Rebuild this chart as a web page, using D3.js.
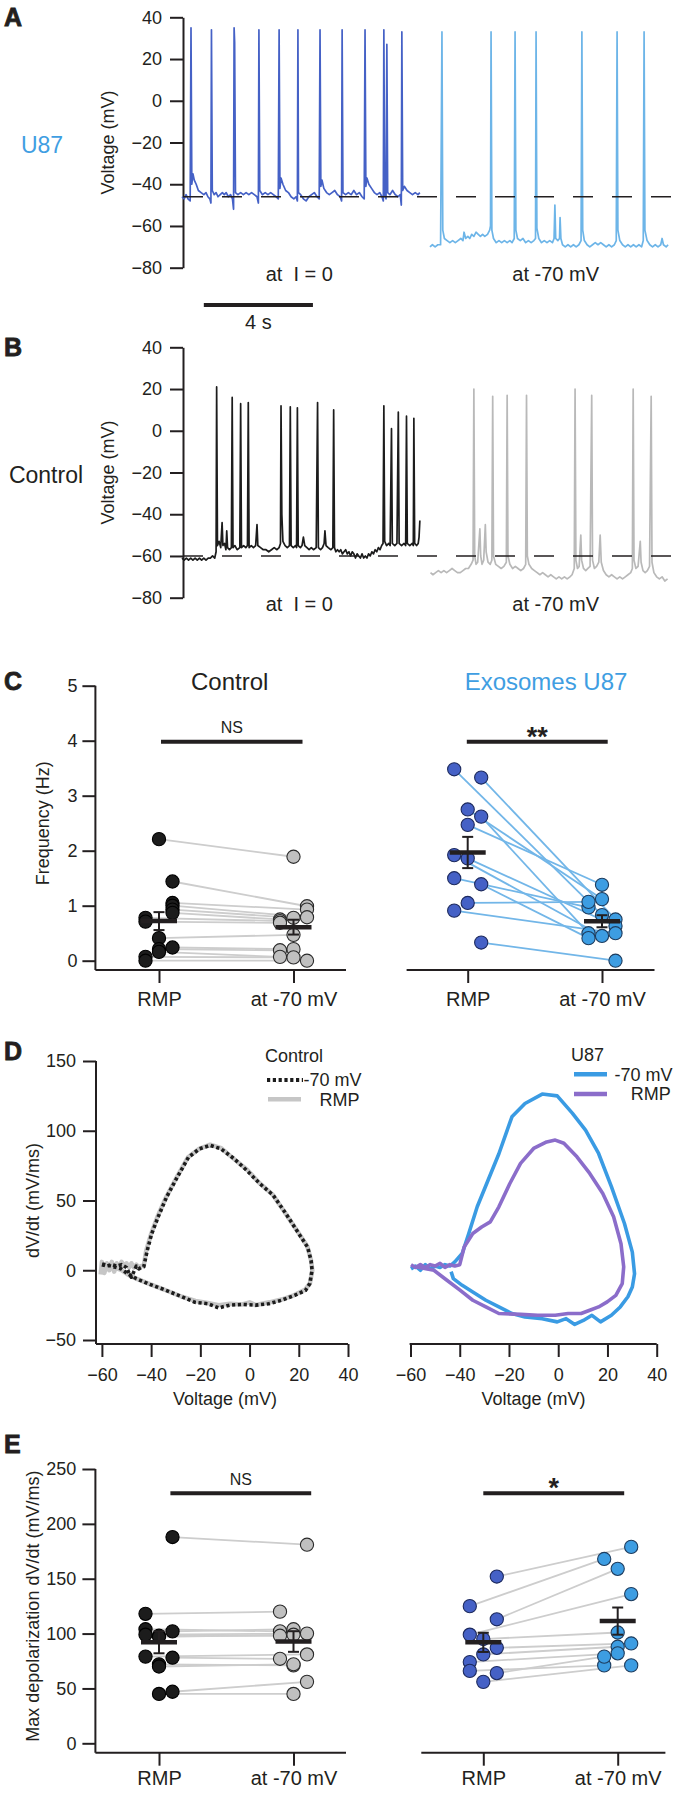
<!DOCTYPE html>
<html><head><meta charset="utf-8">
<script src="https://cdn.jsdelivr.net/npm/d3@7"></script>
<style>
body{margin:0;background:#fff;}
svg text{font-family:"Liberation Sans",Arial,Helvetica,sans-serif;fill:#231f20;}
</style></head><body>
<svg id="fig" width="676" height="1794"></svg>
<script>
// ===================== DATA =====================
// Panels A/B: membrane potential traces, [time (s), voltage (mV)]
const u87AtRest = [[0.00,-46],[0.08,-47],[0.15,-45],[0.22,-47],[0.30,-48],[0.33,35],[0.36,-40],[0.40,-35],[0.45,-38],[0.52,-40],[0.60,-43],[0.70,-44],[0.80,-45],[0.88,-44],[0.95,-46],[1.02,-47],[1.06,-49],[1.08,34],[1.11,-43],[1.18,-45],[1.25,-44],[1.32,-46],[1.40,-45],[1.48,-44],[1.55,-45],[1.62,-44],[1.70,-46],[1.78,-45],[1.85,-47],[1.89,-52],[1.91,35],[1.93,28],[1.96,-44],[2.05,-45],[2.15,-44],[2.25,-45],[2.35,-44],[2.45,-45],[2.55,-44],[2.65,-45],[2.75,-46],[2.80,-49],[2.82,34],[2.85,-43],[2.95,-45],[3.05,-44],[3.15,-45],[3.25,-44],[3.35,-45],[3.45,-46],[3.53,-47],[3.56,34],[3.59,-42],[3.63,-37],[3.70,-40],[3.80,-43],[3.90,-44],[4.00,-46],[4.10,-47],[4.18,-46],[4.23,-48],[4.25,34],[4.27,-44],[4.35,-45],[4.45,-47],[4.55,-48],[4.65,-46],[4.75,-45],[4.85,-44],[4.95,-46],[5.03,-47],[5.06,34],[5.09,-41],[5.13,-38],[5.20,-42],[5.30,-44],[5.40,-45],[5.50,-44],[5.60,-43],[5.70,-45],[5.80,-46],[5.85,-48],[5.87,34],[5.90,-44],[6.00,-45],[6.10,-44],[6.20,-45],[6.30,-43],[6.40,-45],[6.50,-44],[6.60,-46],[6.68,-47],[6.71,34],[6.74,-41],[6.78,-37],[6.85,-40],[6.95,-42],[7.05,-44],[7.15,-45],[7.25,-44],[7.33,-46],[7.38,-48],[7.40,34],[7.43,-45],[7.48,-47],[7.51,27],[7.54,-44],[7.62,-45],[7.72,-43],[7.82,-45],[7.92,-46],[8.00,-45],[8.04,-50],[8.06,33],[8.09,-43],[8.15,-41],[8.25,-43],[8.35,-44],[8.45,-45],[8.55,-44],[8.65,-45],[8.72,-44]];
const u87AtM70 = [[9.09,-70],[9.18,-69],[9.28,-70],[9.38,-69],[9.48,-69],[9.53,33],[9.56,-62],[9.62,-66],[9.72,-67],[9.82,-68],[9.92,-67],[10.02,-68],[10.12,-67],[10.22,-66],[10.30,-67],[10.34,-63],[10.40,-66],[10.48,-65],[10.55,-66],[10.62,-64],[10.70,-65],[10.78,-63],[10.86,-64],[10.94,-65],[11.02,-64],[11.10,-65],[11.20,-64],[11.28,-62],[11.31,-60],[11.33,33],[11.36,-62],[11.42,-66],[11.52,-68],[11.62,-67],[11.72,-68],[11.82,-67],[11.92,-68],[12.02,-67],[12.10,-68],[12.18,-66],[12.21,33],[12.24,-62],[12.30,-66],[12.40,-67],[12.50,-66],[12.60,-68],[12.70,-67],[12.80,-68],[12.90,-67],[12.96,-66],[12.98,33],[13.01,-61],[13.08,-66],[13.18,-68],[13.28,-67],[13.38,-68],[13.48,-67],[13.58,-68],[13.64,-66],[13.67,-50],[13.70,-66],[13.78,-67],[13.84,-66],[13.86,-56],[13.89,-66],[13.95,-69],[14.05,-70],[14.15,-69],[14.25,-70],[14.35,-69],[14.45,-70],[14.55,-69],[14.63,-67],[14.66,33],[14.69,-62],[14.75,-67],[14.85,-69],[14.95,-70],[15.05,-69],[15.15,-68],[15.25,-69],[15.35,-68],[15.45,-69],[15.55,-70],[15.65,-69],[15.75,-70],[15.85,-69],[15.92,-67],[15.95,33],[15.98,-62],[16.05,-67],[16.15,-69],[16.25,-70],[16.35,-69],[16.45,-70],[16.55,-69],[16.65,-70],[16.75,-69],[16.85,-70],[16.91,-67],[16.94,33],[16.97,-62],[17.05,-67],[17.15,-69],[17.25,-70],[17.35,-69],[17.45,-70],[17.55,-69],[17.60,-66],[17.65,-69],[17.75,-70],[17.82,-69]];
const ctrlAtRest = [[0.00,-61],[0.08,-62],[0.16,-61],[0.24,-62],[0.32,-61],[0.40,-62],[0.48,-61],[0.56,-62],[0.64,-61],[0.72,-62],[0.80,-61],[0.88,-62],[0.96,-61],[1.04,-61],[1.12,-60],[1.20,-61],[1.25,-58],[1.27,21],[1.30,-55],[1.36,-53],[1.42,-56],[1.47,-44],[1.50,-55],[1.56,-54],[1.61,-57],[1.64,-48],[1.67,-56],[1.74,-57],[1.81,-56],[1.84,16],[1.87,-56],[1.94,-55],[2.02,-57],[2.12,-56],[2.15,13],[2.18,-56],[2.26,-55],[2.34,-56],[2.40,-55],[2.43,13.5],[2.46,-56],[2.54,-55],[2.62,-56],[2.70,-55],[2.75,-45],[2.78,-55],[2.88,-56],[2.98,-57],[3.08,-57],[3.18,-58],[3.28,-57],[3.38,-56],[3.48,-57],[3.56,-56],[3.61,-54],[3.63,12],[3.66,-40],[3.70,-53],[3.78,-55],[3.86,-56],[3.94,-55],[3.97,11.5],[4.00,-55],[4.08,-56],[4.16,-55],[4.20,-56],[4.23,11],[4.26,-55],[4.34,-56],[4.40,-55],[4.45,-51],[4.50,-55],[4.58,-56],[4.66,-57],[4.74,-56],[4.82,-57],[4.92,-56],[4.97,13.5],[5.00,-56],[5.08,-57],[5.15,-56],[5.21,-54],[5.24,-48],[5.28,-55],[5.36,-56],[5.46,-57],[5.53,-56],[5.56,10],[5.59,-56],[5.64,-58],[5.70,-57],[5.76,-58],[5.82,-57],[5.88,-59],[5.94,-58],[6.00,-57],[6.06,-59],[6.12,-58],[6.18,-60],[6.24,-58],[6.30,-59],[6.36,-61],[6.42,-59],[6.48,-60],[6.54,-61],[6.60,-59],[6.66,-61],[6.72,-60],[6.78,-61],[6.84,-59],[6.90,-60],[6.96,-58],[7.02,-59],[7.08,-57],[7.14,-58],[7.20,-56],[7.26,-57],[7.32,-55],[7.37,-54],[7.40,12],[7.43,-53],[7.50,-55],[7.58,-54],[7.63,-55],[7.68,1],[7.71,-54],[7.80,-55],[7.88,-54],[7.93,9],[7.96,-54],[8.05,-55],[8.14,-54],[8.20,-55],[8.23,7],[8.26,-54],[8.35,-55],[8.44,-54],[8.48,-55],[8.50,6],[8.53,-54],[8.60,-55],[8.66,-54],[8.69,-51],[8.72,-43]];
const ctrlAtM70 = [[9.11,-68],[9.20,-69],[9.30,-68],[9.40,-67],[9.50,-68],[9.60,-67],[9.70,-68],[9.80,-67],[9.90,-66],[10.00,-67],[10.10,-68],[10.20,-68],[10.30,-67],[10.40,-66],[10.50,-66],[10.60,-64],[10.67,-62],[10.70,20],[10.73,-60],[10.78,-64],[10.84,-63],[10.92,-47],[10.95,-60],[11.00,-64],[11.06,-62],[11.12,-45],[11.15,-58],[11.22,-63],[11.30,-64],[11.36,-62],[11.39,16.5],[11.42,-60],[11.50,-64],[11.60,-65],[11.70,-66],[11.80,-65],[11.89,-63],[11.92,17],[11.95,-60],[12.02,-64],[12.12,-66],[12.22,-65],[12.32,-66],[12.42,-67],[12.52,-66],[12.60,-64],[12.63,17],[12.66,-60],[12.72,-64],[12.82,-66],[12.92,-67],[13.02,-68],[13.12,-69],[13.22,-68],[13.32,-69],[13.42,-70],[13.52,-69],[13.62,-70],[13.72,-71],[13.82,-70],[13.92,-71],[14.02,-70],[14.12,-71],[14.22,-70],[14.30,-69],[14.38,-66],[14.41,20],[14.44,-62],[14.50,-66],[14.56,-65],[14.62,-50],[14.65,-62],[14.72,-66],[14.80,-67],[14.88,-66],[14.96,-65],[15.02,17],[15.05,-62],[15.12,-66],[15.20,-65],[15.28,-63],[15.33,-50],[15.37,-63],[15.45,-67],[15.55,-69],[15.65,-70],[15.75,-69],[15.85,-70],[15.95,-71],[16.05,-70],[16.15,-71],[16.25,-70],[16.35,-69],[16.45,-68],[16.51,-66],[16.54,20],[16.57,-62],[16.64,-66],[16.72,-65],[16.80,-53],[16.83,-63],[16.90,-67],[16.98,-68],[17.06,-67],[17.14,-65],[17.20,16.5],[17.23,-63],[17.30,-68],[17.40,-70],[17.50,-71],[17.60,-70],[17.70,-72],[17.80,-71]];
const traceTicks = [-80,-60,-40,-20,0,20,40];
const u87RestLevel = -46;
const ctrlRestLevel = -60;
const scaleBarSeconds = 4;

// Panel C: firing frequency (Hz), paired per cell; slot = jitter column (-1,0,1)
const pairCategories = ["RMP","at -70 mV"];
const freqCtrlRmp = [2.21,1.44,1.05,1.00,0.93,0.87,0.78,0.71,0.41,0.24,0.21,0.16,0.07,0.00];
const freqCtrlM70 = [1.89,0.99,0.93,0.79,0.78,0.75,0.72,0.69,0.47,0.21,0.19,0.07,0.06,0.00];
const freqCtrlRmpSlot = [0,1,1,1,1,1,-1,-1,0,1,0,0,-1,-1];
const freqCtrlM70Slot = [0,1,1,1,0,-1,-1,-1,0,0,-1,-1,0,1];
const freqU87Rmp = [3.48,3.33,2.75,2.62,2.47,1.92,1.86,1.50,1.39,1.05,0.91,0.33];
const freqU87M70 = [0.83,0.75,1.12,0.50,1.38,0.45,0.63,0.97,0.41,1.07,0.50,0.00];
const freqU87RmpSlot = [-1,1,0,1,0,-1,0,-1,1,0,-1,1];
const freqU87M70Slot = [0,1,0,-1,0,0,1,-1,-1,-1,1,1];
const freqTicks = [0,1,2,3,4,5];

// Panel D: phase plots, [voltage (mV), dV/dt (mV/ms)]
const phaseCtrlRmp = [[-60.5,-3],[-60,6],[-59,-2],[-58,5],[-57,0],[-56,6],[-55,-1],[-54,5],[-53,2],[-52,6],[-51,3],[-50,5],[-49,2],[-48,5],[-47,2],[-46,4],[-45,2],[-44,3],[-43,3],[-42,14],[-40,26],[-37.5,38],[-34,52],[-29.5,67],[-25,81],[-20.5,87],[-16,90],[-11.5,87.5],[-6.5,80],[-1,72],[4,62.5],[9.5,54],[14.5,41],[20,26.5],[23.5,17],[25,7],[25.5,0],[24.5,-9.5],[22.5,-14],[18,-18],[13,-21],[8,-23],[5,-24],[2.5,-25],[0,-23],[-3,-24.5],[-8,-24],[-12.5,-25],[-17,-23.5],[-22,-22],[-27.5,-19],[-34.5,-14],[-40.5,-10],[-46,-6],[-49.5,-3],[-52,0],[-55,2],[-58,3]];
const phaseCtrlM70 = [[-60,4],[-58,3],[-56,4],[-54,3],[-52,4],[-50,2],[-49,-2],[-48,-5],[-47,-1],[-46,3],[-45,1],[-44,2],[-43,2.5],[-41.6,14],[-39.8,26],[-37.2,38],[-33.7,52.5],[-29.3,67],[-24.8,81],[-20.4,87],[-16,89.5],[-11.6,87],[-6.3,80],[-1.1,71.5],[4.2,62],[9.5,54],[14.8,40.5],[20.1,26],[23.6,16.5],[25,7],[25.4,0],[24.5,-9.5],[22.7,-14.5],[18.3,-18],[13,-21.5],[7.8,-24],[2.5,-25],[-2.8,-24.5],[-8.1,-25],[-12.5,-27],[-16.9,-24],[-22.2,-23],[-27.5,-19],[-34.5,-14],[-40.7,-10],[-46,-6],[-49.5,-2.5],[-52.2,1],[-57.4,3.5],[-60,4.5]];
const phaseU87M70 = [[-59.8,1],[-58,3],[-56,0],[-54,4],[-52,1],[-50,3],[-48,2],[-46,4],[-44,3],[-42,6],[-39,12],[-36.4,26],[-32.9,45.5],[-28.5,64.5],[-24.1,83.5],[-18.8,110],[-13.5,119.5],[-6.5,126.3],[-0.4,125],[5.8,112.5],[11.1,100.5],[16.4,83.7],[21.6,60],[26.9,33.5],[30.1,13],[31,-2.5],[30.1,-12],[28.3,-19],[25.2,-26.3],[21.6,-32.3],[17.2,-37],[13.7,-32.3],[10.2,-36],[6.7,-38.8],[3.2,-34.7],[-0.4,-37],[-6.5,-34.7],[-13.5,-33.5],[-18.8,-31],[-24.1,-26.3],[-29.4,-21.5],[-34.7,-15.6],[-39,-10.8],[-42.6,-6],[-43.5,-1]];
const phaseU87Rmp = [[-59.8,4],[-58,2],[-56,4],[-54,2],[-52,4],[-50,3],[-48,5],[-46,2],[-44,4],[-42,3],[-40,4],[-38.2,16.7],[-34.7,26.3],[-31.1,31],[-27.6,34.7],[-24.1,45.5],[-19.7,62],[-15.3,76.6],[-10,87.3],[-4.7,92],[-1.2,93.3],[2.3,91],[7.6,81.3],[12.8,69.4],[18.1,55],[22.5,38.3],[25.5,19],[26.6,2.4],[26,-9.6],[23.4,-18],[19.9,-22.7],[16.4,-26.3],[12.8,-28.7],[9.3,-31],[4,-31],[-1.2,-32.3],[-8.3,-32.3],[-15.3,-31.6],[-24.1,-31],[-29.4,-26.3],[-34.7,-21.5],[-39.9,-14.3],[-45.2,-7.2],[-50.5,0],[-57.5,2.4]];
const phaseXTicks = [-60,-40,-20,0,20,40];
const phaseYTicks = [-50,0,50,100,150];

// Panel E: max depolarization dV/dt (mV/ms), paired per cell
const depolCtrlRmp = [188,118,104,102,99,98,97,79,78,72,70,47,45];
const depolCtrlM70 = [181,120,102,104,100,98,99,81,77,71,72,56,45];
const depolCtrlRmpSlot = [1,-1,-1,1,-1,0,0,-1,1,0,0,1,0];
const depolCtrlM70Slot = [1,-1,-1,0,1,-1,0,1,-1,0,0,1,0];
const depolU87Rmp = [152,125,113,99,95,87,81,74,66,64,56];
const depolU87M70 = [179,168,159,136,101,91,88,82,71,79,71];
const depolU87RmpSlot = [1,-1,1,-1,0,1,0,-1,-1,1,0];
const depolU87M70Slot = [1,-1,0,1,0,1,0,0,-1,-1,1];
const depolTicks = [0,50,100,150,200,250];

// ===================== DRAWING =====================
const INK = "#231f20";
const C_DARKBLUE = "#4561c6", C_LIGHTBLUE = "#6db5e8", C_BLUEDOT = "#3d9de2", C_PURPLE = "#8b6dca";
const C_TITLEBLUE = "#3f9ee2";
const svg = d3.select("#fig");
const intFmt = d3.format("d");

function styleAxis(g, fs, lw) {
  g.attr("font-family", null).attr("font-size", null);
  g.selectAll("path,line").attr("stroke", INK).attr("stroke-width", lw || 2);
  g.selectAll("text").attr("font-size", fs || 18);
}
function panelLetter(ch, x, y) {
  svg.append("text").attr("x", x).attr("y", y).attr("font-size", 25).attr("font-weight", 900)
    .attr("stroke", INK).attr("stroke-width", 0.8).text(ch);
}
function vLabel(txt, x, y, fs) {
  svg.append("text").attr("transform", `translate(${x},${y}) rotate(-90)`).attr("text-anchor", "middle")
    .attr("dy", "0.35em").attr("font-size", fs || 18).text(txt);
}

// ---------- Panels A & B ----------
const tScale = d3.scaleLinear().domain([0, 18]).range([182, 673]);
function tracePanel(top, letter, side, sideColor, sideX, traces, restLevel, withScaleBar) {
  const y = d3.scaleLinear().domain([-80, 40]).range([top + 267.7, top + 17.3]);
  panelLetter(letter, 4, top + 26);
  const ax = svg.append("g").attr("transform", "translate(183,0)")
    .call(d3.axisLeft(y).tickValues(traceTicks).tickFormat(intFmt).tickSize(13).tickPadding(8).tickSizeOuter(0));
  styleAxis(ax, 18);
  vLabel("Voltage (mV)", 108, (y(40) + y(-80)) / 2, 18);
  svg.append("text").attr("x", sideX).attr("y", top + 153).attr("text-anchor", "middle")
    .attr("font-size", 23).style("fill", sideColor).text(side);
  const line = d3.line().x(d => tScale(d[0])).y(d => y(d[1]));
  traces.forEach(tr => {
    svg.append("path").datum(tr.data).attr("d", line).attr("fill", "none")
      .attr("stroke", tr.color).attr("stroke-width", 1.7).attr("stroke-linejoin", "round");
  });
  svg.append("line").attr("x1", 183).attr("x2", 676).attr("y1", y(restLevel)).attr("y2", y(restLevel))
    .attr("stroke", INK).attr("stroke-width", 1.6).attr("stroke-dasharray", "20,19");
  svg.append("text").attr("x", tScale(4.3)).attr("y", top + 281).attr("text-anchor", "middle").attr("font-size", 20).text("at\u00a0 I = 0");
  svg.append("text").attr("x", tScale(13.7)).attr("y", top + 281).attr("text-anchor", "middle").attr("font-size", 20).text("at -70 mV");
  if (withScaleBar) {
    svg.append("line").attr("x1", tScale(0.8)).attr("x2", tScale(0.8 + scaleBarSeconds))
      .attr("y1", top + 305).attr("y2", top + 305).attr("stroke", INK).attr("stroke-width", 4);
    svg.append("text").attr("x", (tScale(0.8) + tScale(0.8 + scaleBarSeconds)) / 2).attr("y", top + 329)
      .attr("text-anchor", "middle").attr("font-size", 20).text(scaleBarSeconds + " s");
  }
}
tracePanel(0, "A", "U87", C_TITLEBLUE, 42,
  [{data: u87AtRest, color: C_DARKBLUE}, {data: u87AtM70, color: C_LIGHTBLUE}], u87RestLevel, true);
tracePanel(330, "B", "Control", INK, 46,
  [{data: ctrlAtRest, color: "#1c1c1c"}, {data: ctrlAtM70, color: "#b9b9b9"}], ctrlRestLevel, false);

// ---------- paired scatter helper ----------
function pairedGroup(o) {
  const xp = d3.scalePoint().domain(pairCategories).range(o.xr);
  const jit = d3.scaleLinear().domain([-1, 1]).range([-13.5, 13.5]);
  const y = o.y;
  svg.append("line").attr("x1", o.axisX[0]).attr("x2", o.axisX[1]).attr("y1", o.axisY).attr("y2", o.axisY)
    .attr("stroke", INK).attr("stroke-width", 2);
  const ax = svg.append("g").attr("transform", `translate(0,${o.axisY})`)
    .call(d3.axisBottom(xp).tickSize(13).tickPadding(o.pad));
  ax.select(".domain").remove();
  styleAxis(ax, 20);
  const g = svg.append("g");
  const a = o.rmp.map((v, i) => ({x: xp(pairCategories[0]) + jit(o.rmpSlot[i]), y: y(v)}));
  const b = o.m70.map((v, i) => ({x: xp(pairCategories[1]) + jit(o.m70Slot[i]), y: y(v)}));
  a.forEach((p, i) => g.append("line").attr("x1", p.x).attr("y1", p.y).attr("x2", b[i].x).attr("y2", b[i].y)
    .attr("stroke", o.lineColor).attr("stroke-width", 1.8));
  const dot = (p, fill, stroke) => g.append("circle").attr("cx", p.x).attr("cy", p.y).attr("r", 6.6)
    .attr("fill", fill).attr("stroke", stroke).attr("stroke-width", 1.1);
  a.forEach(p => dot(p, o.colA, o.strokeA));
  b.forEach(p => dot(p, o.colB, o.strokeB));
  [[o.rmp, pairCategories[0]], [o.m70, pairCategories[1]]].forEach(([vals, cat]) => {
    const m = d3.mean(vals), se = d3.deviation(vals) / Math.sqrt(vals.length), cx = xp(cat);
    g.append("line").attr("x1", cx).attr("x2", cx).attr("y1", y(m - se)).attr("y2", y(m + se)).attr("stroke", INK).attr("stroke-width", 2);
    [m - se, m + se].forEach(v => g.append("line").attr("x1", cx - 5.5).attr("x2", cx + 5.5).attr("y1", y(v)).attr("y2", y(v))
      .attr("stroke", INK).attr("stroke-width", 2));
    g.append("line").attr("x1", cx - 18).attr("x2", cx + 18).attr("y1", y(m)).attr("y2", y(m)).attr("stroke", INK).attr("stroke-width", 4.5);
  });
  svg.append("line").attr("x1", o.sig[0]).attr("x2", o.sig[1]).attr("y1", o.sigY).attr("y2", o.sigY)
    .attr("stroke", INK).attr("stroke-width", 4);
  svg.append("text").attr("x", (o.sig[0] + o.sig[1]) / 2).attr("y", o.sigTextY).attr("text-anchor", "middle")
    .attr("font-size", o.sigFs).attr("font-weight", o.sigBold ? 700 : 400).text(o.sigText);
}

// ---------- Panel C ----------
panelLetter("C", 4, 690);
const yFreq = d3.scaleLinear().domain([0, 5]).range([960.7, 685.7]);
{
  const ax = svg.append("g").attr("transform", "translate(95.4,0)")
    .call(d3.axisLeft(yFreq).tickValues(freqTicks).tickFormat(intFmt).tickSize(13).tickPadding(5).tickSizeOuter(0));
  ax.select(".domain").remove();
  styleAxis(ax, 18);
  svg.append("line").attr("x1", 95.4).attr("x2", 95.4).attr("y1", yFreq(5)).attr("y2", 970).attr("stroke", INK).attr("stroke-width", 2);
  vLabel("Frequency (Hz)", 43, (yFreq(0) + yFreq(5)) / 2, 18);
}
svg.append("text").attr("x", 229.7).attr("y", 690).attr("text-anchor", "middle").attr("font-size", 24).text("Control");
svg.append("text").attr("x", 546).attr("y", 690).attr("text-anchor", "middle").attr("font-size", 24).style("fill", C_TITLEBLUE).text("Exosomes U87");
pairedGroup({xr: [159, 293.5], axisX: [95.4, 346], axisY: 970, pad: 9, y: yFreq,
  rmp: freqCtrlRmp, m70: freqCtrlM70, rmpSlot: freqCtrlRmpSlot, m70Slot: freqCtrlM70Slot,
  lineColor: "#cdcdcd", colA: "#1c1c1c", strokeA: "#000", colB: "#c0c0c0", strokeB: "#2a2a2a",
  sig: [161, 302.5], sigY: 741.7, sigText: "NS", sigTextY: 733, sigFs: 16, sigBold: false});
pairedGroup({xr: [467.7, 602], axisX: [406.6, 654.5], axisY: 970, pad: 9, y: yFreq,
  rmp: freqU87Rmp, m70: freqU87M70, rmpSlot: freqU87RmpSlot, m70Slot: freqU87M70Slot,
  lineColor: "#72b6e8", colA: C_DARKBLUE, strokeA: "#1d2a5e", colB: C_BLUEDOT, strokeB: "#1d3c5e",
  sig: [466.8, 607.7], sigY: 741.7, sigText: "**", sigTextY: 746, sigFs: 27, sigBold: true});

// ---------- Panel D ----------
panelLetter("D", 4, 1060);
const yPh = d3.scaleLinear().domain([-50, 150]).range([1340, 1061]);
{
  const ax = svg.append("g").attr("transform", "translate(96,0)")
    .call(d3.axisLeft(yPh).tickValues(phaseYTicks).tickFormat(intFmt).tickSize(13).tickPadding(7).tickSizeOuter(0));
  ax.select(".domain").remove();
  styleAxis(ax, 18);
  svg.append("line").attr("x1", 96).attr("x2", 96).attr("y1", yPh(150)).attr("y2", 1344).attr("stroke", INK).attr("stroke-width", 2);
  vLabel("dV/dt (mV/ms)", 32.5, (yPh(-50) + yPh(150)) / 2, 18);
}
function phaseChart(xr, axisX, curves) {
  const x = d3.scaleLinear().domain([-60, 40]).range(xr);
  svg.append("line").attr("x1", axisX[0]).attr("x2", axisX[1]).attr("y1", 1344).attr("y2", 1344).attr("stroke", INK).attr("stroke-width", 2);
  const ax = svg.append("g").attr("transform", "translate(0,1344)")
    .call(d3.axisBottom(x).tickValues(phaseXTicks).tickFormat(intFmt).tickSize(13).tickPadding(11).tickSizeOuter(0));
  ax.select(".domain").remove();
  styleAxis(ax, 18);
  svg.append("text").attr("x", (xr[0] + xr[1]) / 2).attr("y", 1404.5).attr("text-anchor", "middle").attr("font-size", 18).text("Voltage (mV)");
  const line = d3.line().x(d => x(d[0])).y(d => yPh(d[1]));
  curves.forEach(c => svg.append("path").datum(c.data).attr("d", line).attr("fill", "none")
    .attr("stroke", c.color).attr("stroke-width", c.w).attr("stroke-dasharray", c.dash || null)
    .attr("stroke-linejoin", "round"));
}
phaseChart([101.9, 348], [96, 348], [
  {data: phaseCtrlRmp, color: "#c6c6c6", w: 4.5},
  {data: phaseCtrlM70, color: "#1c1c1c", w: 3.6, dash: "3.2,2.6"}]);
phaseChart([410.5, 656.7], [409.6, 656.7], [
  {data: phaseU87M70, color: "#3a9be3", w: 3.6},
  {data: phaseU87Rmp, color: C_PURPLE, w: 3.6}]);
svg.append("text").attr("x", 265).attr("y", 1061.5).attr("font-size", 18).text("Control");
svg.append("line").attr("x1", 267).attr("x2", 303).attr("y1", 1080).attr("y2", 1080).attr("stroke", "#1c1c1c").attr("stroke-width", 4).attr("stroke-dasharray", "3.2,2.6");
svg.append("text").attr("x", 303.4).attr("y", 1086.4).attr("font-size", 18).text("-70 mV");
svg.append("line").attr("x1", 268).attr("x2", 301).attr("y1", 1099.3).attr("y2", 1099.3).attr("stroke", "#c6c6c6").attr("stroke-width", 4.5);
svg.append("text").attr("x", 319.5).attr("y", 1105.7).attr("font-size", 18).text("RMP");
svg.append("text").attr("x", 571).attr("y", 1060.5).attr("font-size", 18).text("U87");
svg.append("line").attr("x1", 574).attr("x2", 607).attr("y1", 1074.3).attr("y2", 1074.3).attr("stroke", "#3a9be3").attr("stroke-width", 4.5);
svg.append("text").attr("x", 614.6).attr("y", 1080.7).attr("font-size", 18).text("-70 mV");
svg.append("line").attr("x1", 574).attr("x2", 607).attr("y1", 1094).attr("y2", 1094).attr("stroke", C_PURPLE).attr("stroke-width", 4.5);
svg.append("text").attr("x", 630.7).attr("y", 1100.4).attr("font-size", 18).text("RMP");

// ---------- Panel E ----------
panelLetter("E", 4, 1453);
const yDep = d3.scaleLinear().domain([0, 250]).range([1743.3, 1469]);
{
  const ax = svg.append("g").attr("transform", "translate(95.4,0)")
    .call(d3.axisLeft(yDep).tickValues(depolTicks).tickFormat(intFmt).tickSize(13).tickPadding(6).tickSizeOuter(0));
  ax.select(".domain").remove();
  styleAxis(ax, 18);
  svg.append("line").attr("x1", 95.4).attr("x2", 95.4).attr("y1", yDep(250)).attr("y2", 1752.7).attr("stroke", INK).attr("stroke-width", 2);
  vLabel("Max depolarization dV/dt (mV/ms)", 32.5, (yDep(0) + yDep(250)) / 2, 18);
}
pairedGroup({xr: [159, 293.5], axisX: [95.4, 346], axisY: 1752.7, pad: 5, y: yDep,
  rmp: depolCtrlRmp, m70: depolCtrlM70, rmpSlot: depolCtrlRmpSlot, m70Slot: depolCtrlM70Slot,
  lineColor: "#cdcdcd", colA: "#1c1c1c", strokeA: "#000", colB: "#c0c0c0", strokeB: "#2a2a2a",
  sig: [170.4, 311.2], sigY: 1493.3, sigText: "NS", sigTextY: 1485, sigFs: 16, sigBold: false});
pairedGroup({xr: [483.3, 617.7], axisX: [421.3, 665.4], axisY: 1752.7, pad: 5, y: yDep,
  rmp: depolU87Rmp, m70: depolU87M70, rmpSlot: depolU87RmpSlot, m70Slot: depolU87M70Slot,
  lineColor: "#cdcdcd", colA: C_DARKBLUE, strokeA: "#1d2a5e", colB: C_BLUEDOT, strokeB: "#1d3c5e",
  sig: [483.3, 624.2], sigY: 1493.3, sigText: "*", sigTextY: 1497, sigFs: 27, sigBold: true});
</script>
</body></html>
